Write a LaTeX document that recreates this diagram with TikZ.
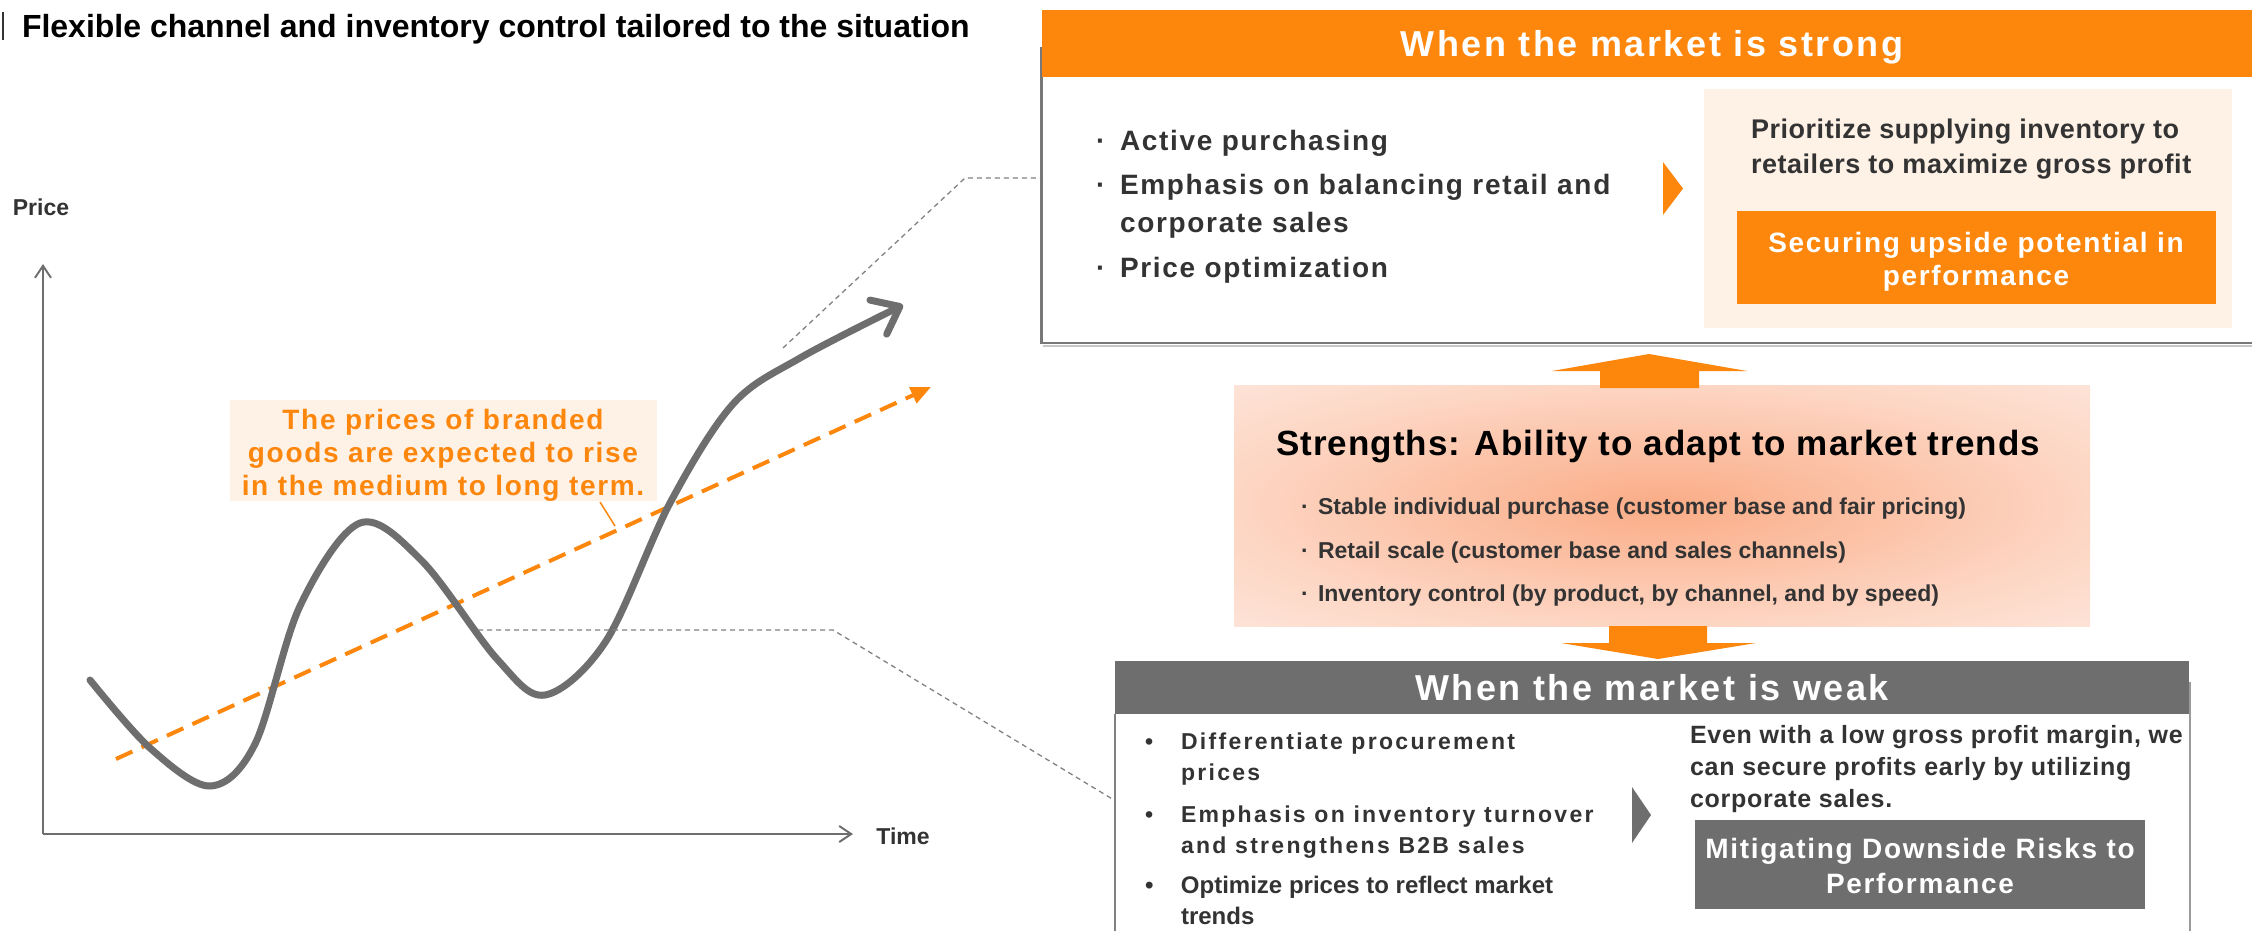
\documentclass[tikz,border=0pt]{standalone}
\usepackage{fontspec}
\setmainfont{Liberation Sans}
\usetikzlibrary{arrows.meta}
\definecolor{orangeC}{RGB}{253,134,13}
\definecolor{grayC}{RGB}{110,110,110}
\definecolor{beigeC}{RGB}{254,241,230}
\definecolor{darkT}{RGB}{51,51,51}
\definecolor{borderC}{RGB}{120,120,120}
\definecolor{calloutC}{RGB}{130,130,130}
\definecolor{shC}{RGB}{250,172,134}
\definecolor{shE}{RGB}{253,214,196}
\definecolor{shK}{RGB}{253,228,216}
\pgfdeclareradialshading{strshade}{\pgfpoint{0bp}{0bp}}{color(0bp)=(shC); color(25bp)=(shE); color(36bp)=(shK); color(50bp)=(shK)}
\newcommand{\myfs}[2]{\fontsize{#1}{#2}\selectfont}
\newcommand{\myls}[1]{\addfontfeatures{LetterSpace=#1}}
\begin{document}
\begin{tikzpicture}[x=1pt,y=-1pt,
  every node/.style={inner sep=0pt, outer sep=0pt},
  hdtext/.style={text=white, text depth=0pt, font={\bfseries\myfs{36}{40}\myls{7}}},
  stbullet/.style={anchor=base west, align=left, text=darkT, font={\bfseries\myfs{28}{38}\myls{6}}},
  sgbullet/.style={anchor=base west, text=darkT, font={\bfseries\myfs{23}{30}}},
  wkbullet/.style={anchor=base west, align=left, text=darkT, font={\bfseries\myfs{23}{31}\myls{10}}},
  boxtext/.style={anchor=base, align=center, text=white, font={\bfseries\myfs{28}{33}\myls{6}}},
  callout/.style={calloutC, line width=1.3pt, dash pattern=on 5pt off 4pt},
  axis/.style={grayC, line width=2pt, -{Straight Barb[length=12pt,width=16pt]}},
  axlabel/.style={anchor=base, text=darkT, font={\bfseries\myfs{23}{26}}}
]
\useasboundingbox (0,0) rectangle (2252,930);
\fill[white] (0,0) rectangle (2252,930);

% ---------- title ----------
\draw[darkT, line width=2pt] (3,12) -- (3,40);
\node[anchor=base west, font={\bfseries\myfs{32}{38}}] (title) at (22,37) {Flexible channel and inventory control tailored to the situation};

% ---------- strong market box ----------
\draw[borderC, line width=2.5pt] (1041.5,47) -- (1041.5,343) -- (2253,343);
\draw[black!22, line width=2pt] (1043,346) -- (2253,346);
\node[fill=orangeC, minimum width=1210pt, minimum height=67pt, anchor=north west, hdtext] (stronghead) at (1042,10) {\hspace*{10pt}When the market is strong};
\node[stbullet] (sb1) at (1096,150) {\makebox[24pt][l]{·}Active purchasing};
\node[stbullet] (sb2) at (1096,232) {\makebox[24pt][l]{·}Emphasis on balancing retail and\\\hspace*{24pt}corporate sales};
\node[stbullet] (sb3) at (1096,277) {\makebox[24pt][l]{·}Price optimization};
\fill[orangeC] (1663,162) -- (1683,188.5) -- (1663,215) -- cycle;
\node[fill=beigeC, minimum width=528pt, minimum height=239pt, anchor=north west] (stpanel) at (1704,89) {};
\node[anchor=base west, align=left, text=darkT, font={\bfseries\myfs{27}{35}\myls{2}}] (stres) at (1751,173) {Prioritize supplying inventory to\\retailers to maximize gross profit};
\node[fill=orangeC, minimum width=479pt, minimum height=93pt, anchor=north west] (stbox) at (1737,211) {};
\node[boxtext] (sttxt) at (1976,285) {Securing upside potential in\\performance};

% ---------- strengths ----------
\node[shade, shading=strshade, minimum width=856pt, minimum height=241pt, anchor=north west] (strength) at (1234,385) {};
\fill[orangeC] (1649,354) -- (1747,371) -- (1699,371) -- (1699,388) -- (1600,388) -- (1600,371) -- (1552,371) -- cycle;
\node[anchor=base, font={\bfseries\myfs{35}{40}\myls{3}}] (strtitle) at (1658,455) {Strengths: Ability to adapt to market trends};
\node[sgbullet] (sg1) at (1301,514) {\makebox[17pt][l]{·}Stable individual purchase (customer base and fair pricing)};
\node[sgbullet] (sg2) at (1301,558) {\makebox[17pt][l]{·}Retail scale (customer base and sales channels)};
\node[sgbullet] (sg3) at (1301,601) {\makebox[17pt][l]{·}Inventory control (by product, by channel, and by speed)};
\fill[orangeC] (1609,626) -- (1707,626) -- (1707,643) -- (1756,643) -- (1658,659) -- (1561,643) -- (1609,643) -- cycle;

% ---------- weak market box ----------
\draw[calloutC, line width=2pt] (1115,714) -- (1115,931);
\draw[calloutC!80, line width=2pt] (2189.5,682) -- (2189.5,931);
\node[fill=grayC, minimum width=1074pt, minimum height=53pt, anchor=north west, hdtext] (weakhead) at (1115,661) {When the market is weak};
\node[wkbullet] (wb1) at (1145,780) {\makebox[36pt][l]{•}Differentiate procurement\\\hspace*{36pt}prices};
\node[wkbullet] (wb2) at (1145,853) {\makebox[36pt][l]{•}Emphasis on inventory turnover\\\hspace*{36pt}and strengthens B2B sales};
\node[anchor=base west, align=left, text=darkT, font={\bfseries\myfs{24}{31}}] (wb3) at (1145,924) {\makebox[36pt][l]{•}Optimize prices to reflect market\\\hspace*{36pt}trends};
\fill[grayC] (1632,787) -- (1651,815) -- (1632,843) -- cycle;
\node[anchor=base west, align=left, text=darkT, font={\bfseries\myfs{25}{32}\myls{3}}] (wkres) at (1690,807) {Even with a low gross profit margin, we\\can secure profits early by utilizing\\corporate sales.};
\node[fill=grayC, minimum width=450pt, minimum height=89pt, anchor=north west] (wkbox) at (1695,820) {};
\node[boxtext, font={\bfseries\myfs{28}{35}\myls{6}}] (wktxt) at (1920,893) {Mitigating Downside Risks to\\Performance};

% ---------- chart ----------
\coordinate (origin) at (43,834);
\coordinate (ytip) at (43,264);
\coordinate (xtip) at (853,834);
\draw[axis] (origin) -- (ytip);
\draw[axis] (origin) -- (xtip);
\node[axlabel] (price) at (41,215) {Price};
\node[axlabel] (time) at (903,844) {Time};

\node[fill=beigeC, minimum width=427pt, minimum height=101pt, anchor=north west] (annot) at (230,400) {};
\node[anchor=base, align=center, text=orangeC, font={\bfseries\myfs{28}{33}\myls{6}}] (annottxt) at (443,495) {The prices of branded\\goods are expected to rise\\in the medium to long term.};

\coordinate (trendA) at (116,759);
\coordinate (trendB) at (931,387);
\draw[orangeC, line width=4pt, dash pattern=on 18pt off 10pt, -{Triangle[length=20pt,width=17pt]}] (trendA) -- (trendB);
\coordinate (ldA) at (600,502);
\coordinate (ldB) at (615,526);
\draw[orangeC, line width=1.5pt] (ldA) -- (ldB);

\draw[grayC, line width=7pt, line cap=round, line join=round, -{Straight Barb[length=24pt,width=38pt,round]}]
  plot[smooth, tension=0.55] coordinates {(90,680) (150,748) (210,786) (255,744) (300,606) (360,523) (422,561) (497,659) (545,695) (606,641) (670,503) (733,404) (800,358) (903,305)};

\coordinate (cuA) at (783,348);
\coordinate (cuB) at (965,178);
\coordinate (cuC) at (1041,178);
\draw[callout] (cuA) -- (cuB) -- (cuC);
\coordinate (clA) at (478,630);
\coordinate (clB) at (833,630);
\coordinate (clC) at (1114,800);
\draw[callout] (clA) -- (clB) -- (clC);
\end{tikzpicture}
\end{document}
